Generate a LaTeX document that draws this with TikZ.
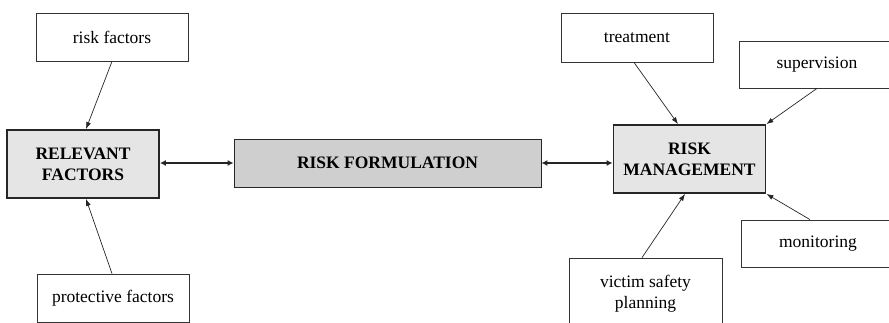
\documentclass[tikz,border=0pt]{standalone}
\usepackage{fontspec}
\setmainfont{LiberationSerif}[Extension=.ttf, UprightFont=*-Regular, BoldFont=*-Bold, ItalicFont=*-Italic, BoldItalicFont=*-BoldItalic]
\usetikzlibrary{arrows.meta}

\begin{document}
\begin{tikzpicture}[x=1pt,y=-1pt,
    every node/.style={font=\rmfamily\fontsize{17.5}{21}\selectfont, align=center, inner sep=0pt},
    sidebox/.style={draw=black!80, line width=0.8pt, fill=white, minimum width=152pt, minimum height=48pt},
    mainbox/.style={draw=black!85, line width=1.8pt, fill=black!10, minimum width=152pt, minimum height=68pt, font=\rmfamily\fontsize{17.5}{21}\selectfont\bfseries},
    feed/.style={-{Latex[length=7pt,width=5pt]}, line width=0.7pt, black!85},
    link/.style={{Latex[length=6pt,width=6pt]}-{Latex[length=6pt,width=6pt]}, line width=2pt, black!85}]
      \clip (0,0) rectangle (889,322);
      \node[mainbox] (relev) at (83,164) {RELEVANT\\FACTORS};
      \node[mainbox, line width=0.8pt, fill=black!19, minimum width=307pt, minimum height=48pt] (formul) at (387.5,163) {RISK FORMULATION};
      \node[mainbox] (riskm) at (689.5,159) {RISK\\MANAGEMENT};
      \node[sidebox] (riskf) at (112,37) {risk factors};
      \node[sidebox] (protf) at (113,298) {protective factors};
      \node[sidebox, minimum height=49pt] (treat) at (637,37.5) {treatment};
      \node[sidebox, minimum width=156pt, minimum height=47pt] (superv) at (817,64.5) {supervision};
      \node[sidebox, minimum width=154pt, minimum height=47pt] (monit) at (818,243.5) {monitoring};
      \node[sidebox, minimum width=153pt, minimum height=72pt] (victim) at (645.5,294) {victim safety\\planning};
      \draw[feed] (riskf.south) -- ([xshift=3pt]relev.north);
      \draw[feed] ([xshift=-1pt]protf.north) -- ([xshift=3pt]relev.south);
      \draw[feed] ([xshift=-3pt]treat.south) -- ([xshift=-11.5pt]riskm.north);
      \draw[feed] (superv.south) -- (riskm.north east);
      \draw[feed] ([xshift=-8pt]monit.north) -- (riskm.south east);
      \draw[feed] ([xshift=-3.5pt]victim.north) -- ([xshift=-4.5pt]riskm.south);
      \draw[link] (formul.west -| relev.east) -- (formul.west);
      \draw[link] (formul.east) -- (formul.east -| riskm.west);
    \end{tikzpicture}
\end{document}
